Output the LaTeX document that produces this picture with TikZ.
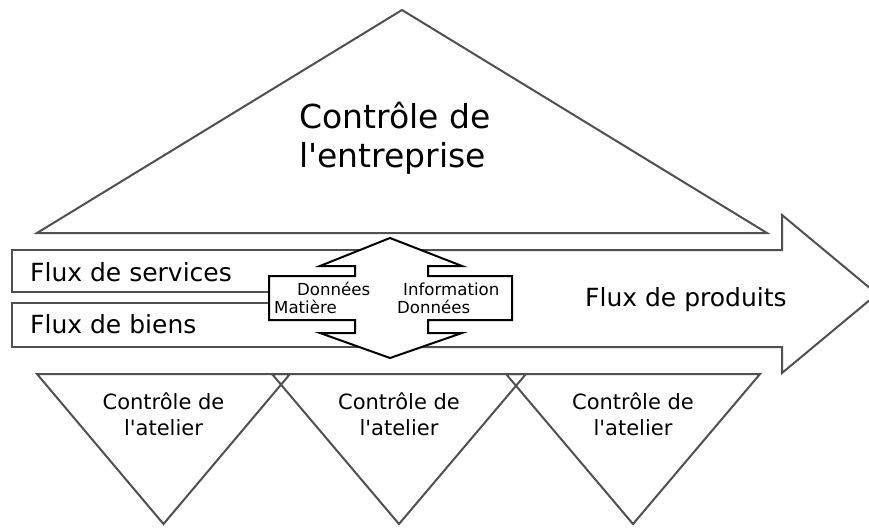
\documentclass[tikz,border=0pt]{standalone}
\usepackage{fontspec}
\newfontfamily\dv{DejaVu Sans}
\definecolor{linegray}{HTML}{505050}
\begin{document}
\begin{tikzpicture}[x=1pt,y=-1pt,
  shp/.style={draw=linegray, line width=2pt, line join=miter},
  ctr/.style={draw=black, line width=2pt, fill=white, line join=miter},
  big/.style={inner sep=0pt, anchor=base west, font=\dv\fontsize{33}{39}\selectfont},
  flux/.style={inner sep=0pt, anchor=base west, font=\dv\fontsize{25}{30}\selectfont},
  small/.style={inner sep=0pt, anchor=base west, font=\dv\fontsize{16.6}{19}\selectfont},
  atel/.style={inner sep=0pt, anchor=base, font=\dv\fontsize{21}{26}\selectfont}]
\useasboundingbox (0,0) rectangle (869,527);
\coordinate (apex) at (402,10);
\coordinate (bl) at (37,233);
\coordinate (br) at (767,233);
% top triangle
\draw[shp, fill=white] (apex) -- (bl) -- (br) -- cycle;
% flux boxes
\draw[shp] (12,250) rectangle (390,292);
\draw[shp] (12,303) rectangle (390,347);
% big arrow
\draw[shp, fill=white] (390,250) -- (782,250) -- (782,215) -- (877,294) -- (782,373) -- (782,347) -- (390,347);
% central double arrow
\draw[ctr] (390,238) -- (462,266) -- (428,266) -- (428,276) -- (512,276) -- (512,320)
  -- (428,320) -- (428,333) -- (462,333) -- (390,358) -- (320,333) -- (355,333)
  -- (355,320) -- (269,320) -- (269,276) -- (355,276) -- (355,266) -- (320,266) -- cycle;
% bottom triangles
\draw[shp] (37,374) -- (290,374) -- (163.5,524) -- cycle;
\draw[shp] (272,374) -- (526,374) -- (399,524) -- cycle;
\draw[shp] (506,374) -- (760,374) -- (633,524) -- cycle;
% texts
\node[big] (t1) at (299,128) {Contrôle de};
\node[big] (t2) at (299,167) {l'entreprise};
\node[flux] (fs) at (30,281) {Flux de services};
\node[flux] (fb) at (30,333) {Flux de biens};
\node[flux] (fp) at (585,306) {Flux de produits};
\node[small] (d1) at (297,295) {Données};
\node[small] (m1) at (274,313) {Matière};
\node[small] (i1) at (403,295) {Information};
\node[small] (d2) at (397,313) {Données};
\node[atel] (a1) at (163.5,409) {Contrôle de};
\node[atel] (a2) at (163.5,435) {l'atelier};
\node[atel] (b1) at (399,409) {Contrôle de};
\node[atel] (b2) at (399,435) {l'atelier};
\node[atel] (c1) at (633,409) {Contrôle de};
\node[atel] (c2) at (633,435) {l'atelier};
\end{tikzpicture}
\end{document}
